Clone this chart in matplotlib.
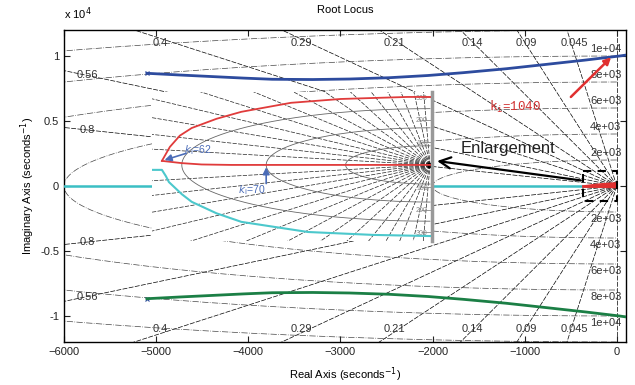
import numpy as np
import matplotlib
matplotlib.use("Agg")
from matplotlib import pyplot as plt

plt.rcParams['font.family'] = ['Liberation Sans', 'DejaVu Sans']

# root locus branches (main plot, seconds^-1)
blue_x = [-5100, -4750, -4400, -4050, -3740, -3300, -2900, -2470, -2050, -1670, -1200, -760, -350, 30, 100]
blue_y = [8670, 8540, 8420, 8300, 8210, 8190, 8230, 8330, 8500, 8715, 9020, 9360, 9680, 10000, 10070]
green_x = blue_x
green_y = [-v for v in blue_y]
cyan_x = [-6000, -2000, -1950, -20]
cyan_y = [0, 0, 0, 0]
red_small_x = [-350, -250, -150, -60, -20]
red_small_y = [60, 150, 220, 260, 280]

# grid values
zetas = [0.045, 0.09, 0.14, 0.21, 0.29, 0.4, 0.56, 0.8]
top_zetas = [0.4, 0.29, 0.21, 0.14, 0.09, 0.045]
left_zetas = [0.56, 0.8]
wns = [2000, 4000, 6000, 8000, 10000, 12000]
wn_labels = [2000, 4000, 6000, 8000, 10000]

# enlargement (inset) branches
ri_up_x = [-270, -262, -252, -240, -215, -190, -140, -90, -23, 0]
ri_up_y = [18, 80, 130, 164, 205, 236, 276, 293, 302, 302]
ri_lo_x = [-270, -250, -230, -200, 0]
ri_lo_y = [18, 8, 2, 0, 0]
ci_x = [-282, -270, -266, -263, -250, -240, -215, -190, -123, -57, 0]
ci_y = [-22, -22, -50, -76, -130, -164, -215, -253, -298, -311, -316]
inset_zetas = [0.02, 0.05, 0.09, 0.13, 0.18, 0.24, 0.31, 0.39, 0.48, 0.58, 0.69, 0.8, 0.9, 0.97]
inset_wns = [85, 165, 250]
inset_ticks = [-300, -200, -100, 100, 200, 300]

fig = plt.figure(figsize=(6.35, 3.85), dpi=100)
ax = fig.add_axes([64/635, 1-342/385, (626-64)/635, (342-30)/385])

# sgrid: damping lines
R = 30000
for z in zetas:
    th = np.arccos(z)
    for s in (1, -1):
        ax.plot([0, -R*np.cos(th)], [0, s*R*np.sin(th)], color='k', lw=0.5,
                ls=(0, (7, 2)), zorder=1)
ax.plot([0, 0], [-13000, 13000], color='k', lw=0.5, ls=(0, (7, 2)), zorder=1)
# sgrid: natural frequency circles
t = np.linspace(np.pi/2, 3*np.pi/2, 300)
for w in wns:
    ax.plot(w*np.cos(t), w*np.sin(t), color='#444444', lw=0.5, ls=(0, (9, 2, 1, 2)), zorder=1)

for z in top_zetas:
    tn = np.tan(np.arccos(z))
    ax.text(-11500/tn + 60, 11000, str(z), ha='center', va='center', fontsize=8, color='#333333')
    ax.text(-11500/tn + 60, -11000, str(z), ha='center', va='center', fontsize=8, color='#333333')
for z in left_zetas:
    tn = np.tan(np.arccos(z))
    ax.text(-5750, 5750*tn, str(z), ha='center', va='center', fontsize=8, color='#333333')
    ax.text(-5750, -5750*tn, str(z), ha='center', va='center', fontsize=8, color='#333333')
for w in wn_labels:
    lab = '%.0e' % w
    ax.text(-120, w + 550, lab, ha='center', va='center', fontsize=8, color='#333333')
    ax.text(-120, -w - 550, lab, ha='center', va='center', fontsize=8, color='#333333')

# branches
ax.plot(cyan_x, cyan_y, color='#3bbfc4', lw=1.8, zorder=3)
ax.plot(blue_x, blue_y, color='#2d4b9e', lw=2, zorder=3)
ax.plot(green_x, green_y, color='#1b7f45', lw=2, zorder=3)
ax.plot(blue_x[0], blue_y[0], marker='x', color='#2d4b9e', ms=3, mew=0.8)
ax.plot(green_x[0], green_y[0], marker='x', color='#2d4b9e', ms=3, mew=0.8)
ax.fill_between(red_small_x, [-v*0.3 for v in red_small_y], red_small_y, color='#e03030', zorder=4)
ax.plot([-370, -20], [0, 0], color='#e03030', lw=2, zorder=4)

# dashed enlargement box
ax.plot([-370, 0, 0, -370, -370], [1150, 1150, -1150, -1150, 1150], color='k', lw=1.5,
        ls=(0, (4, 3)), zorder=5)

ax.annotate('', xy=(-1980, 1950), xytext=(-360, 400),
            arrowprops=dict(arrowstyle='->,head_length=0.8,head_width=0.4', color='k', lw=1.6))
ax.text(-1180, 2850, 'Enlargement', ha='center', va='center', fontsize=12, color='#222222')
ax.annotate('', xy=(-40, 10050), xytext=(-520, 6700),
            arrowprops=dict(arrowstyle='-|>', color='#e03030', lw=1.8))
ax.text(-1110, 6100, r'$\mathtt{k_i}$=1040', ha='center', va='center', fontsize=9,
        color='#d03030', family='Liberation Mono')

ax.set_xlim(-6000, 100)
ax.set_ylim(-12000, 12000)
ax.set_xticks(range(-6000, 1, 1000))
ax.set_yticks([-10000, -5000, 0, 5000, 10000])
ax.set_yticklabels(['-1', '-0.5', '0', '0.5', '1'])
ax.tick_params(direction='in', top=True, right=True, labelsize=8, colors='#222222',
               length=4, width=0.8)
for sp in ax.spines.values():
    sp.set_linewidth(1.0)
ax.set_xlabel('Real Axis (seconds$^{-1}$)', fontsize=8, labelpad=6)
ax.set_ylabel('Imaginary Axis (seconds$^{-1}$)', fontsize=8, labelpad=2)
ax.set_title('Root Locus', fontsize=8, pad=12)
ax.text(0.0, 1.025, r'x 10$^4$', transform=ax.transAxes, fontsize=8, ha='left', va='bottom')

# inset enlargement
ia = fig.add_axes([152/635, 1-241/385, (432-152)/635, (241-92)/385])
ia.set_facecolor('white')
Ri = 5000
for z in inset_zetas:
    th = np.arccos(z)
    for s in (1, -1):
        ia.plot([0, -Ri*np.cos(th)], [0, s*Ri*np.sin(th)], color='#222222', lw=0.5,
                ls=(0, (6, 2)), zorder=1)
for w in inset_wns:
    ia.plot(w*np.cos(t), w*np.sin(t), color='#666666', lw=0.6, zorder=1)
ia.plot(ri_up_x, ri_up_y, color='#e03b3b', lw=1.3, zorder=3)
ia.plot(ri_lo_x, ri_lo_y, color='#e03b3b', lw=1.3, zorder=3)
ia.plot(ci_x, ci_y, color='#4cc8cc', lw=1.5, zorder=3)
ia.plot(0, 0, marker='s', color='k', ms=3)

ia.annotate('', xy=(-270, 18), xytext=(-243, 55),
            arrowprops=dict(arrowstyle='-|>,head_length=0.4,head_width=0.2', color='#4b6cb7', lw=1.2))
ia.text(-248, 68, r'$k_{\rm i}$=62', fontsize=7.5, color='#4b6cb7', ha='left', va='center')
ia.annotate('', xy=(-165, 2), xytext=(-165, -95),
            arrowprops=dict(arrowstyle='-|>,head_length=0.4,head_width=0.2', color='#4b6cb7', lw=1.2))
ia.text(-180, -112, r'$k_{\rm i}$=70', fontsize=7.5, color='#4b6cb7', ha='center', va='center')

ia.set_xlim(-280, 2)
ia.set_ylim(-338, 324)
ia.set_xticks([])
ia.set_yticks(inset_ticks)
ia.set_yticklabels([str(abs(v)) for v in inset_ticks])
ia.yaxis.tick_right()
ia.tick_params(axis='y', direction='in', pad=-3, labelsize=5, colors='#888888',
               length=8, width=0.6, zorder=5)
for lbl in ia.get_yticklabels():
    lbl.set_horizontalalignment('right')
    lbl.set_zorder(6)
for k in ('left', 'top', 'bottom'):
    ia.spines[k].set_visible(False)
ia.spines['right'].set_color('#999999')
ia.spines['right'].set_linewidth(2.5)

fig.savefig('out.png', dpi=100)
